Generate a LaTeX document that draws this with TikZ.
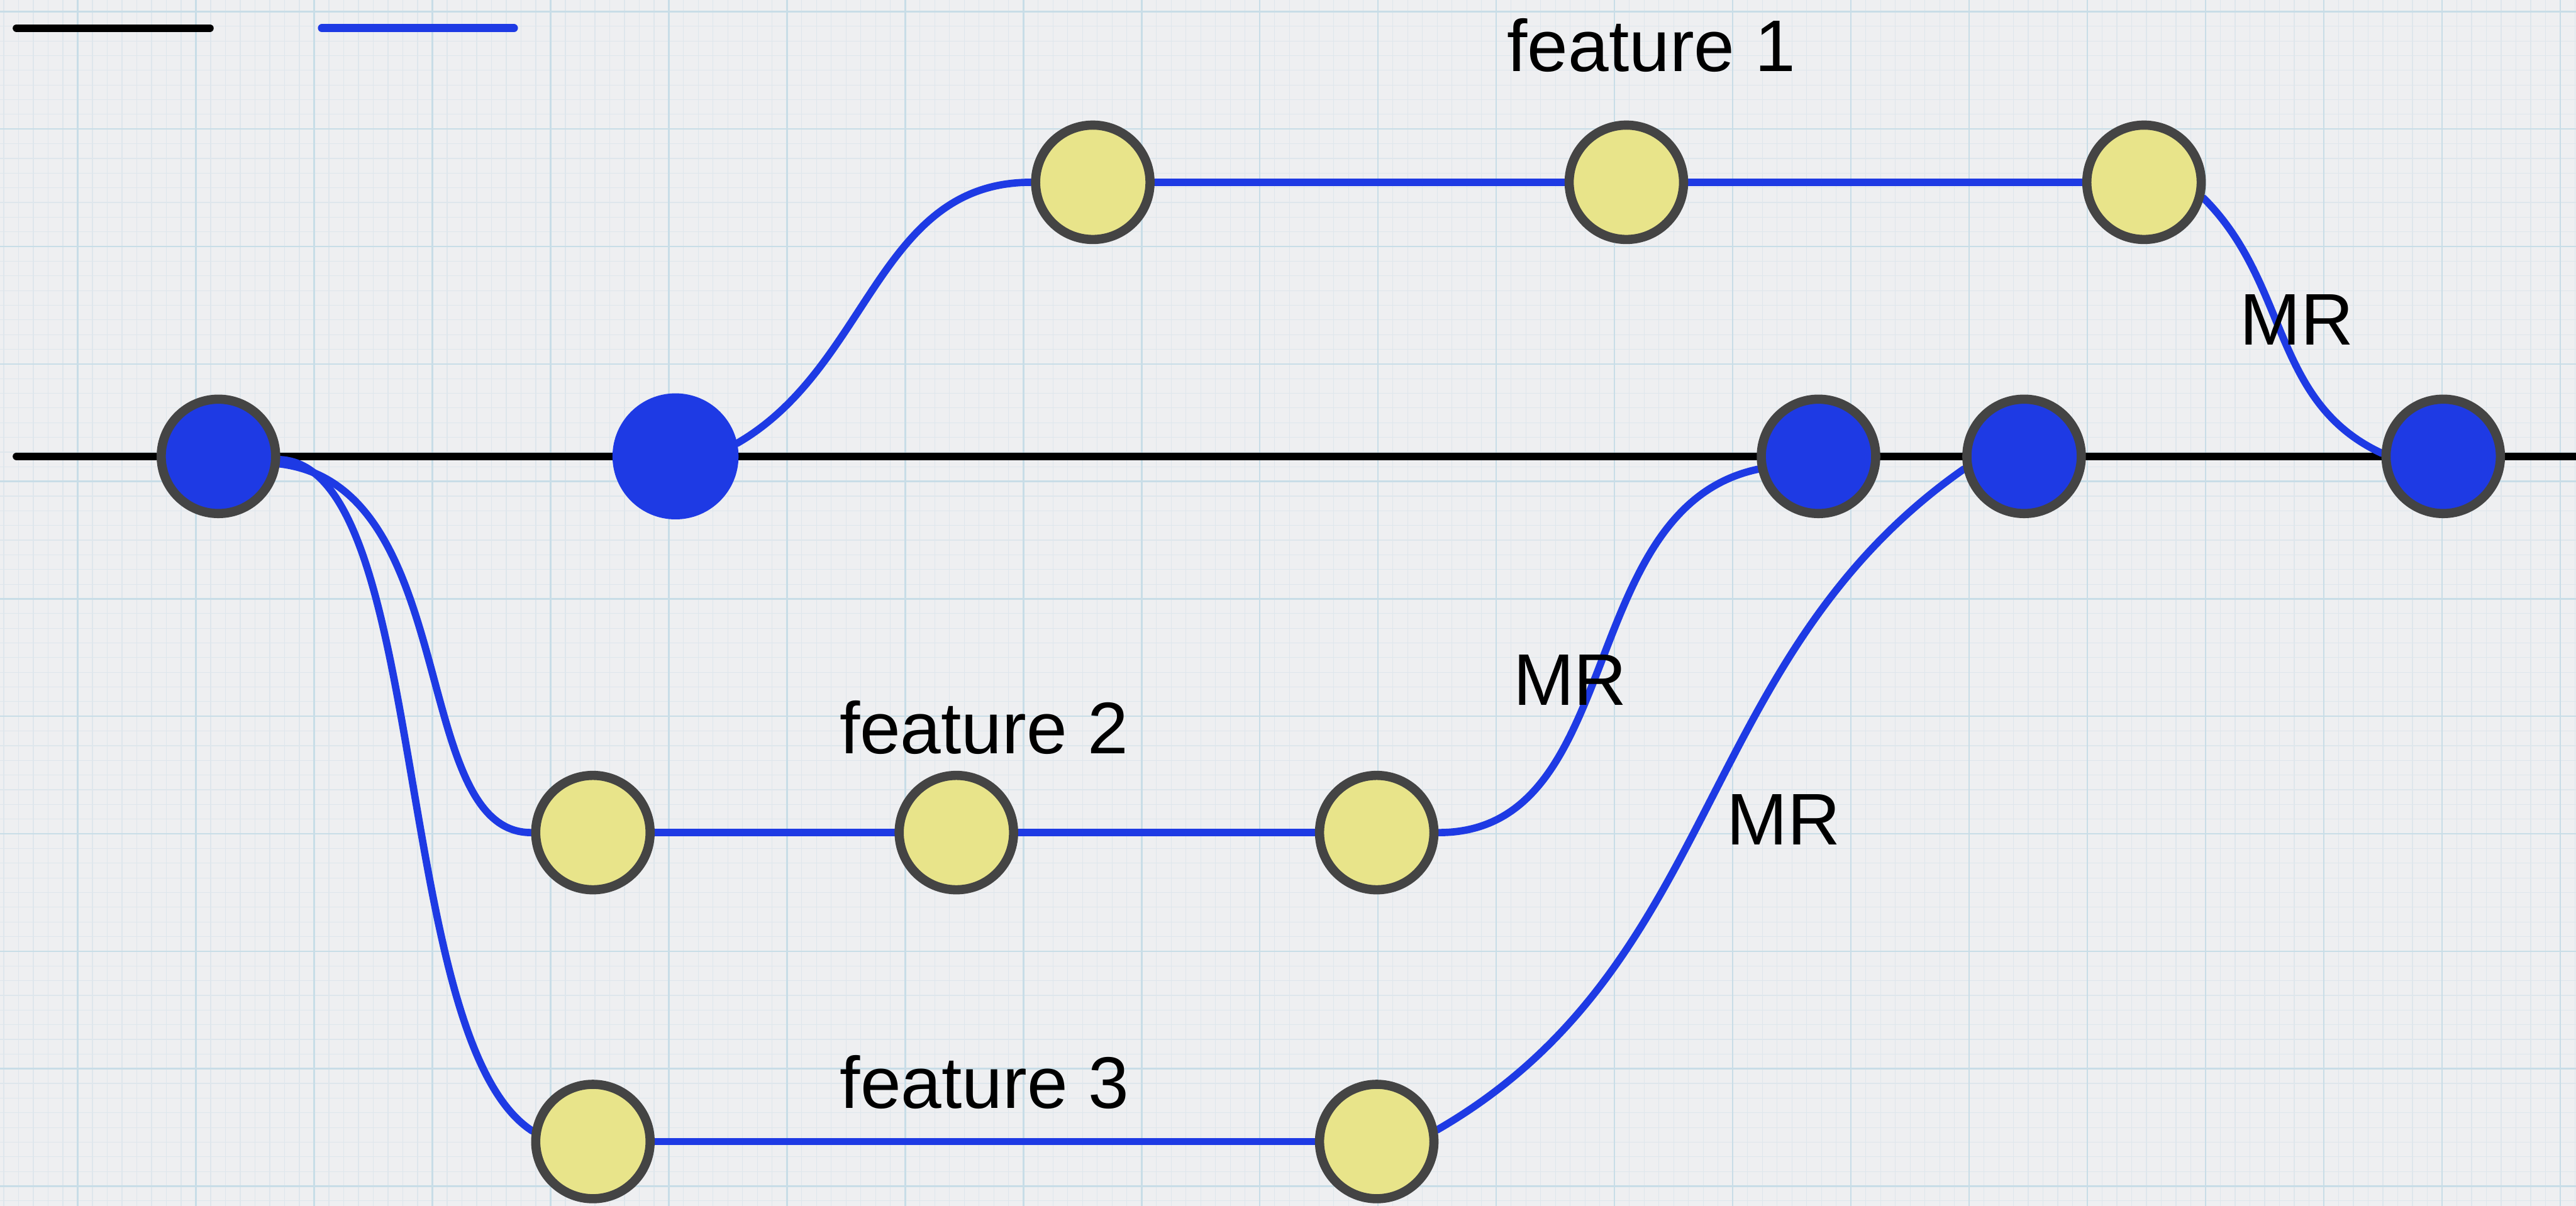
\documentclass[tikz,border=0pt]{standalone}
\usepackage{fontspec}
\setmainfont{Liberation Sans}
\usetikzlibrary{backgrounds}

\definecolor{paper}{RGB}{238,239,241}
\definecolor{gridmajor}{RGB}{200,221,231}
\definecolor{gridminor}{RGB}{222,230,236}
\definecolor{commitblue}{RGB}{30,58,228}
\definecolor{commityellow}{RGB}{232,228,138}
\definecolor{rimgray}{RGB}{68,68,68}

\begin{document}
\begin{tikzpicture}[
    commit/.style={circle, fill=commitblue, draw=rimgray, line width=0.15cm,
                   minimum size=1.87cm, inner sep=0pt},
    feat/.style={commit, fill=commityellow},
    trunk/.style={line width=0.125cm, line cap=round},
    branch/.style={draw=commitblue, line width=0.12cm, line cap=round},
    lbl/.style={font=\fontsize{34}{40}\selectfont, anchor=base, inner sep=0pt}
]
    \useasboundingbox (0,0) rectangle (42.1,19.71);

    % Legend strokes
    \coordinate (legK1) at (0.27,19.25);
    \coordinate (legK2) at (3.43,19.25);
    \coordinate (legB1) at (5.26,19.25);
    \coordinate (legB2) at (8.40,19.25);

    % Commits on the main branch
    \coordinate (mainL) at (0.27,12.25);
    \coordinate (mainR) at (42.4,12.25);
    \node[commit] (C1) at (3.57,12.25) {};
    \node[commit, draw=none, outer sep=0pt, minimum size=2.06cm] (C2) at (11.04,12.25) {};
    \node[commit] (C3) at (29.72,12.25) {};
    \node[commit] (C4) at (33.08,12.25) {};
    \node[commit] (C5) at (39.93,12.25) {};

    % Feature commits
    \node[feat] (F1a) at (17.86,16.73) {};
    \node[feat] (F1b) at (26.58,16.73) {};
    \node[feat] (F1c) at (35.04,16.73) {};
    \node[feat] (F2a) at (9.69,6.10) {};
    \node[feat] (F2b) at (15.63,6.10) {};
    \node[feat] (F2c) at (22.50,6.10) {};
    \node[feat] (F3a) at (9.69,1.05) {};
    \node[feat] (F3b) at (22.50,1.05) {};

    \begin{pgfonlayer}{background}
        % Paper and grid
        \fill[paper] (0,0) rectangle (42.1,19.71);
        \begin{scope}[shift={(1.27,0.32)}]
            \draw[gridminor, line width=0.012cm, xstep=0.2415, ystep=0.24] (-1.27,-0.32) grid (40.83,19.39);
            \draw[gridmajor, line width=0.025cm, xstep=1.932, ystep=1.92] (-1.27,-0.32) grid (40.83,19.39);
        \end{scope}

        % Main line
        \draw[trunk] (mainL) -- (C1) -- (C2) -- (C3) -- (C4) -- (C5) -- (mainR);

        % Feature 1
        \draw[branch] (C2.12) to[out=30, in=180] (F1a);
        \draw[branch] (F1a) -- (F1b) -- (F1c);
        \draw[branch] (F1c.-15) to[out=-45, in=155] (C5.177);

        % Feature 2
        \draw[branch] (C1) to[out=-7, in=180, out distance=3cm, in distance=2cm] (F2a);
        \draw[branch] (F2a) -- (F2b) -- (F2c);
        \draw[branch] (F2c) to[out=0, in=192] (C3);

        % Feature 3
        \draw[branch] (C1) to[out=-3, in=147, out distance=2.45cm, in distance=2.75cm] (F3a.170);
        \draw[branch] (F3a) -- (F3b);
        \draw[branch] (F3b.11) to[out=30, in=215] (C4.192);
    \end{pgfonlayer}

    \draw[trunk] (legK1) -- (legK2);
    \draw[branch, line width=0.13cm] (legB1) -- (legB2);

    % Labels
    \node[lbl] (lf1) at (26.99,18.54) {feature 1};
    \node[lbl] (lf2) at (16.08,7.39) {feature 2};
    \node[lbl] (lf3) at (16.09,1.59) {feature 3};
    \node[lbl] (mr1) at (37.54,14.07) {MR};
    \node[lbl] (mr2) at (25.66,8.18) {MR};
    \node[lbl] (mr3) at (29.15,5.90) {MR};
\end{tikzpicture}
\end{document}
